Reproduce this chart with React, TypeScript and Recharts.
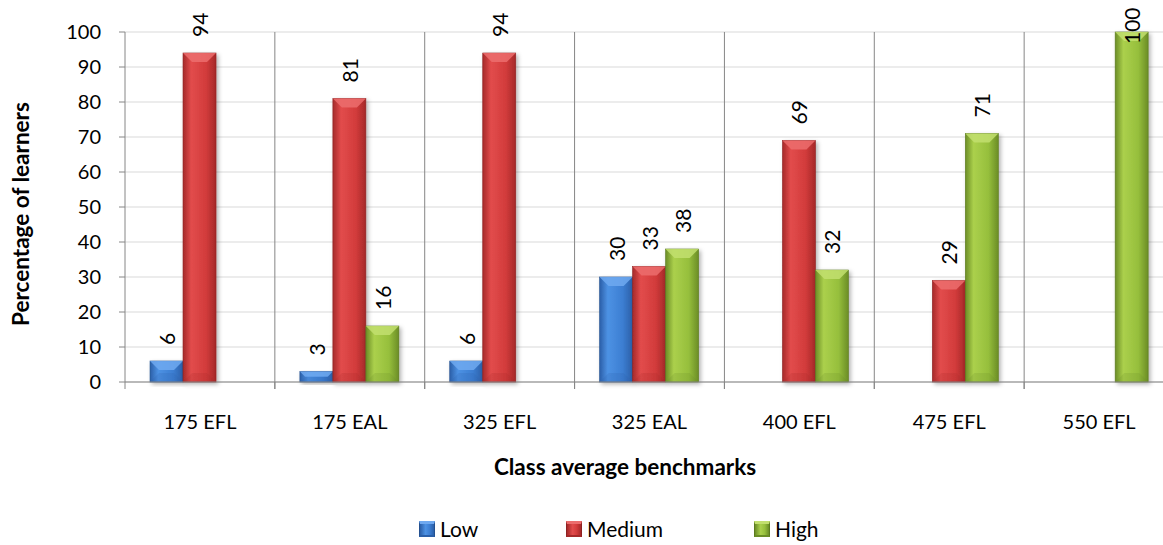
import React from 'react';
import { BarChart, Bar, XAxis, YAxis, CartesianGrid, LabelList, Label } from 'recharts';

const categories = ['175 EFL', '175 EAL', '325 EFL', '325 EAL', '400 EFL', '475 EFL', '550 EFL'];
const low = [6, 3, 6, 30, null, null, null];
const medium = [94, 81, 94, 33, 69, 29, null];
const high = [null, 16, null, 38, 32, 71, 100];
const yTicks = [0, 10, 20, 30, 40, 50, 60, 70, 80, 90, 100];

const data = categories.map((name, i) => ({ name, low: low[i], medium: medium[i], high: high[i] }));

const FONT = 'Lato, "Open Sans", sans-serif';
const AXIS_GREY = '#868686';

// colour sets for the bevelled bars: edge, light centre, base, top bevel, outline
const palette = {
  low: { edge: '#2b5fa8', light: '#4d92e4', base: '#3c7ed2', top: '#6fa9f0', line: '#24508f', label: 'Low' },
  medium: { edge: '#a52929', light: '#e24c4c', base: '#d23b3b', top: '#ec6d6d', line: '#8d2222', label: 'Medium' },
  high: { edge: '#6b8d26', light: '#abd04c', base: '#96bf3c', top: '#c2df6e', line: '#5b7a1f', label: 'High' },
};
type Key = keyof typeof palette;

// legend slot widths so the three entries sit where the chart legend lives
const legendSlots = [147, 188, 90];

const bevelBar = (key: Key) => (props: any) => {
  const { x, y, width, height } = props;
  if (!height || height <= 0) return null;
  const c = palette[key];
  const b = Math.min(9, height / 2, width / 2);
  return (
    <g filter="url(#barShadow)">
      <rect x={x} y={y} width={width} height={height} fill={`url(#grad-${key})`} stroke={c.line} strokeWidth={0.6} />
      <polygon
        points={`${x},${y} ${x + width},${y} ${x + width - b},${y + b} ${x + b},${y + b}`}
        fill={c.top}
        opacity={0.85}
      />
      <polygon
        points={`${x},${y + height} ${x + width},${y + height} ${x + width - b},${y + height - b} ${x + b},${y + height - b}`}
        fill={c.edge}
        opacity={0.2}
      />
    </g>
  );
};

const ValueLabel = (props: any) => {
  const { value } = props;
  if (value == null) return null;
  const x = Number(props.x);
  const y = Number(props.y);
  const width = Number(props.width);
  const cx = x + width / 2;
  const len = String(value).length * 12;
  const base = Math.max(y - 16, 8 + len);
  return (
    <text
      x={cx}
      y={base}
      transform={`rotate(-90 ${cx} ${base})`}
      textAnchor="start"
      dominantBaseline="central"
      fontFamily={FONT}
      fontSize={21}
      fill="#000"
    >
      {value}
    </text>
  );
};

// category label plus the small boundary tick that hangs below the axis
const CategoryTick = (props: any) => {
  const { x, y, payload } = props;
  const half = payload.offset ?? 0;
  return (
    <g>
      <line x1={x - half} y1={y} x2={x - half} y2={y + 7} stroke={AXIS_GREY} />
      <line x1={x + half} y1={y} x2={x + half} y2={y + 7} stroke={AXIS_GREY} />
      <text x={x} y={y + 47} textAnchor="middle" fontFamily={FONT} fontSize={20} fill="#000">
        {payload.value}
      </text>
    </g>
  );
};

const Swatch = ({ k }: { k: Key }) => {
  const c = palette[k];
  return (
    <span
      style={{
        display: 'inline-block',
        width: 16,
        height: 16,
        boxSizing: 'border-box',
        background: `linear-gradient(90deg, ${c.edge}, ${c.light} 40%, ${c.base} 70%, ${c.edge})`,
        borderTop: `3px solid ${c.top}`,
        borderLeft: `1px solid ${c.line}`,
        borderRight: `1px solid ${c.line}`,
        borderBottom: `2px solid ${c.edge}`,
        marginRight: 5,
      }}
    />
  );
};

export default function App() {
  const keys: Key[] = ['low', 'medium', 'high'];
  return (
    <div style={{ position: 'absolute', left: 0, top: 0, width: 1163, height: 545, overflow: 'hidden', background: '#fff' }}>
      <BarChart
        width={1190}
        height={545}
        data={data}
        margin={{ top: 32, right: 16, bottom: 0, left: 0 }}
        barCategoryGap="16.7%"
        barGap={0}
      >
        <defs>
          {keys.map((k) => (
            <linearGradient key={k} id={`grad-${k}`} x1="0" y1="0" x2="1" y2="0">
              <stop offset="0%" stopColor={palette[k].edge} />
              <stop offset="25%" stopColor={palette[k].light} />
              <stop offset="70%" stopColor={palette[k].base} />
              <stop offset="100%" stopColor={palette[k].edge} />
            </linearGradient>
          ))}
          <filter id="barShadow" x="-20%" y="-10%" width="150%" height="130%">
            <feDropShadow dx={2} dy={2} stdDeviation={2} floodColor="#000" floodOpacity={0.3} />
          </filter>
        </defs>
        <CartesianGrid horizontal vertical={false} stroke="#d9d9d9" strokeWidth={1.2} />
        <CartesianGrid
          horizontal={false}
          stroke={AXIS_GREY}
          verticalCoordinatesGenerator={({ width, offset }: any) => {
            const left = offset.left;
            const w = width - offset.left - offset.right;
            return categories.slice(1).map((_, i) => left + ((i + 1) * w) / categories.length);
          }}
        />
        <XAxis
          dataKey="name"
          height={163}
          axisLine={{ stroke: AXIS_GREY }}
          tickLine={false}
          tickSize={0}
          tickMargin={0}
          interval={0}
          tick={<CategoryTick />}
        >
          <Label
            content={() => (
              <text x={625} y={475} textAnchor="middle" fontFamily={FONT} fontWeight={700} fontSize={22.5} fill="#000">
                Class average benchmarks
              </text>
            )}
          />
        </XAxis>
        <YAxis
          width={125}
          domain={[0, 100]}
          ticks={yTicks}
          interval={0}
          axisLine={{ stroke: AXIS_GREY }}
          tickLine={{ stroke: AXIS_GREY }}
          tickSize={6}
          tickMargin={18}
          tick={{ fontFamily: FONT, fontSize: 20, fill: '#000' }}
        >
          <Label
            content={() => (
              <text
                x={20}
                y={214}
                transform="rotate(-90 20 214)"
                textAnchor="middle"
                dominantBaseline="central"
                fontFamily={FONT}
                fontWeight={700}
                fontSize={22.5}
                fill="#000"
              >
                Percentage of learners
              </text>
            )}
          />
        </YAxis>
        {keys.map((k) => (
          <Bar key={k} dataKey={k} name={palette[k].label} shape={bevelBar(k)} isAnimationActive={false}>
            <LabelList dataKey={k} content={<ValueLabel />} />
          </Bar>
        ))}
      </BarChart>
      <div
        style={{
          position: 'absolute',
          left: 419,
          top: 516,
          height: 26,
          lineHeight: '26px',
          display: 'flex',
          fontFamily: FONT,
          fontSize: 21,
          alignItems: 'center',
          color: '#000',
        }}
      >
        {keys.map((k, i) => (
          <span key={k} style={{ display: 'flex', alignItems: 'center', width: legendSlots[i] }}>
            <Swatch k={k} />
            {palette[k].label}
          </span>
        ))}
      </div>
    </div>
  );
}
